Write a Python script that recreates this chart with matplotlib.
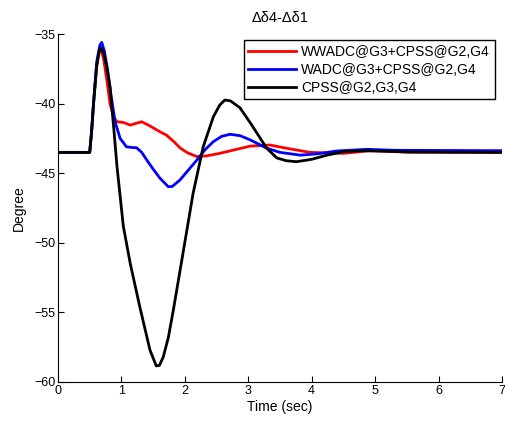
import matplotlib
matplotlib.use("Agg")
import matplotlib.pyplot as plt

# values
t_black = [0, 0.5, 0.53, 0.56, 0.61, 0.65, 0.68, 0.72, 0.77, 0.82, 0.88, 0.93, 1.03, 1.14,
           1.29, 1.45, 1.55, 1.6, 1.66, 1.74, 1.82, 1.98, 2.13, 2.29, 2.45, 2.55, 2.63, 2.72,
           2.87, 3.05, 3.29, 3.45, 3.6, 3.76, 4.0, 4.24, 4.5, 4.82, 5.2, 5.55, 7.0]
v_black = [-43.5, -43.5, -42.0, -40.0, -37.3, -36.2, -36.0, -36.4, -37.4, -38.8, -41.8, -44.5,
           -48.8, -51.5, -54.6, -57.7, -58.85, -58.8, -58.2, -56.8, -54.8, -50.5, -46.45, -43.1,
           -40.94, -40.1, -39.74, -39.8, -40.3, -41.5, -43.2, -43.9, -44.1, -44.17, -44.0, -43.7,
           -43.45, -43.38, -43.42, -43.48, -43.5]

t_red = [0, 0.5, 0.53, 0.56, 0.61, 0.65, 0.68, 0.72, 0.77, 0.82, 0.88, 0.93, 1.03, 1.14, 1.24,
         1.32, 1.45, 1.6, 1.71, 1.82, 1.93, 2.05, 2.19, 2.35, 2.55, 2.8, 3.03, 3.34, 3.6, 3.97,
         4.5, 4.92, 5.5, 7.0]
v_red = [-43.5, -43.5, -42.0, -40.0, -37.3, -36.3, -36.1, -36.8, -38.3, -40.0, -41.0, -41.3,
         -41.35, -41.54, -41.4, -41.3, -41.6, -42.0, -42.26, -42.7, -43.2, -43.55, -43.8, -43.75,
         -43.57, -43.3, -43.05, -42.97, -43.2, -43.5, -43.57, -43.38, -43.48, -43.5]

t_blue = [0, 0.5, 0.53, 0.56, 0.61, 0.66, 0.69, 0.73, 0.78, 0.84, 0.9, 0.98, 1.08, 1.17, 1.24,
          1.32, 1.4, 1.5, 1.61, 1.74, 1.8, 1.92, 2.05, 2.19, 2.32, 2.45, 2.58, 2.71, 2.87, 3.03,
          3.29, 3.5, 3.82, 4.1, 4.4, 4.87, 5.3, 7.0]
v_blue = [-43.5, -43.5, -42.0, -40.0, -37.0, -35.8, -35.6, -36.2, -37.5, -39.5, -41.3, -42.5,
          -43.1, -43.15, -43.17, -43.5, -44.05, -44.7, -45.37, -45.97, -45.95, -45.5, -44.8,
          -44.05, -43.3, -42.73, -42.35, -42.2, -42.3, -42.6, -43.2, -43.5, -43.7, -43.6, -43.4,
          -43.28, -43.35, -43.38]

labels = ["WWADC@G3+CPSS@G2,G4", "WADC@G3+CPSS@G2,G4", "CPSS@G2,G3,G4"]
x_ticks = [0, 1, 2, 3, 4, 5, 6, 7]
y_ticks = [-60, -55, -50, -45, -40, -35]

plt.rcParams['font.family'] = ['Liberation Sans', 'DejaVu Sans']

fig = plt.figure(figsize=(5.06, 4.26), dpi=100)
ax = fig.add_axes([0.1146, 0.1033, 0.8774, 0.8167])

ax.plot(t_red, v_red, color='#ff0000', lw=2, label=labels[0])
ax.plot(t_blue, v_blue, color='#0000ff', lw=2, label=labels[1])
ax.plot(t_black, v_black, color='black', lw=2, label=labels[2])

ax.set_xlim(0, 7)
ax.set_ylim(-60, -35)
ax.set_xticks(x_ticks)
ax.set_yticks(y_ticks)
ax.tick_params(direction='in', length=4, labelsize=9, top=False, right=False, pad=2)
ax.spines['top'].set_visible(False)
ax.spines['right'].set_visible(False)

ax.set_xlabel('Time (sec)', fontsize=10, labelpad=2)
ax.set_ylabel('Degree', fontsize=10, labelpad=6)
ax.set_title('\u0394\u03b44-\u0394\u03b41', fontsize=10.5, pad=9)

leg = ax.legend(loc='upper right', bbox_to_anchor=(0.984, 0.983), fontsize=10, fancybox=False,
                framealpha=1, edgecolor='black', handlelength=3.4, borderpad=0.35,
                labelspacing=0.28, handletextpad=0.4, borderaxespad=0)
leg.get_frame().set_linewidth(1)

fig.savefig('out.png', dpi=100)
